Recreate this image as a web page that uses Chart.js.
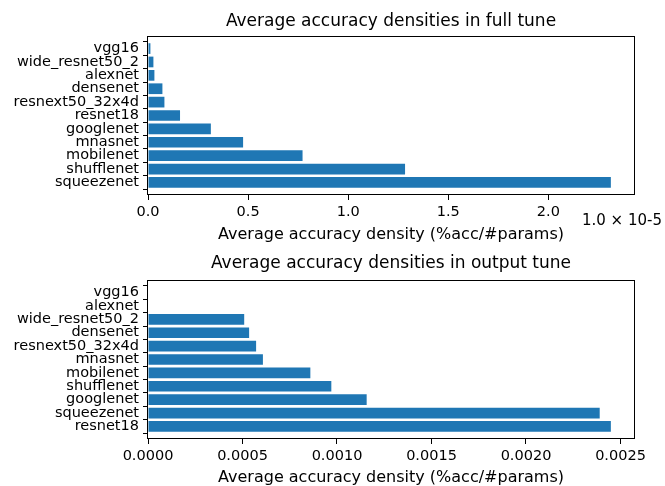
<!DOCTYPE html>
<html>
<head>
<meta charset="utf-8">
<script src="https://cdn.jsdelivr.net/npm/chart.js@4.4.0/dist/chart.umd.min.js"></script>
<style>
  body { margin: 0; background: #fff; }
  .box { width: 665px; height: 243px; }
</style>
</head>
<body>
<div class="box"><canvas id="fullChart" width="665" height="243"></canvas></div>
<div class="box"><canvas id="outputChart" width="665" height="243"></canvas></div>
<script>
// full tune, values in units of 1e-5
const fullNames = ['vgg16', 'wide_resnet50_2', 'alexnet', 'densenet', 'resnext50_32x4d', 'resnet18',
  'googlenet', 'mnasnet', 'mobilenet', 'shufflenet', 'squeezenet'];
const fullValues = [0.012, 0.027, 0.032, 0.072, 0.082, 0.160, 0.314, 0.475, 0.772, 1.284, 2.312];
const fullTicks = [0, 0.5, 1.0, 1.5, 2.0];

// output tune
const outputNames = ['vgg16', 'alexnet', 'wide_resnet50_2', 'densenet', 'resnext50_32x4d', 'mnasnet',
  'mobilenet', 'shufflenet', 'googlenet', 'squeezenet', 'resnet18'];
const outputValues = [0, 0, 0.000509, 0.000535, 0.000572, 0.000608, 0.000859, 0.000970, 0.001157, 0.002390, 0.002449];
const outputTicks = [0, 0.0005, 0.0010, 0.0015, 0.0020, 0.0025];

const FONT = 'DejaVu Sans';
const BLUE = '#1f77b4';

// black box round the plot area, like matplotlib axes
const framePlugin = {
  id: 'frame',
  afterDraw(chart) {
    const a = chart.chartArea, ctx = chart.ctx;
    ctx.save();
    ctx.strokeStyle = '#000';
    ctx.lineWidth = 1;
    ctx.strokeRect(Math.round(a.left) - 0.5, Math.round(a.top) + 0.5,
      Math.round(a.right - a.left) + 1, Math.round(a.bottom - a.top) - 1);
    ctx.restore();
  }
};

// "1.0 × 10-5" offset text
const offsetPlugin = {
  id: 'offsetText',
  afterDraw(chart, args, opts) {
    if (!opts.text) return;
    const ctx = chart.ctx;
    ctx.save();
    ctx.font = '15px ' + FONT;
    ctx.fillStyle = '#000';
    ctx.textAlign = 'left';
    ctx.textBaseline = 'middle';
    ctx.fillText(opts.text, opts.x, opts.y);
    ctx.restore();
  }
};

function makeChart(id, names, values, ticks, digits, title, titlePad, xHeight, offsetText) {
  const n = names.length;
  new Chart(document.getElementById(id), {
    type: 'bar',
    data: {
      datasets: [{
        data: names.map((name, i) => ({ x: values[i], y: i })),
        backgroundColor: BLUE,
        barPercentage: 0.8,
        categoryPercentage: 1.0
      }]
    },
    plugins: [framePlugin, offsetPlugin],
    options: {
      indexAxis: 'y',
      responsive: false,
      animation: false,
      layout: { padding: { left: 0, right: 31, top: 0, bottom: 0 } },
      plugins: {
        legend: { display: false },
        tooltip: { enabled: false },
        title: {
          display: true,
          text: title,
          fullSize: false,
          color: '#000',
          font: { family: FONT, size: 17, weight: 'normal' },
          padding: titlePad
        },
        offsetText: offsetText
      },
      scales: {
        x: {
          type: 'linear',
          min: 0,
          max: Math.max(...values) * 1.05,
          afterBuildTicks: s => { s.ticks = ticks.map(v => ({ value: v })); },
          afterFit: s => { s.height = xHeight; },
          border: { display: false },
          grid: { drawOnChartArea: false, drawTicks: true, tickLength: 5, color: '#000' },
          ticks: {
            color: '#000', padding: 4,
            font: { family: FONT, size: 14.5 },
            maxRotation: 0,
            callback: v => Number(v).toFixed(digits)
          },
          title: {
            display: true,
            text: 'Average accuracy density (%acc/#params)',
            color: '#000',
            font: { family: FONT, size: 16 },
            padding: { top: 0, bottom: -1 }
          }
        },
        y: {
          type: 'linear',
          reverse: true,
          offset: false,
          min: -0.94,
          max: n - 1 + 0.94,
          afterBuildTicks: s => { s.ticks = names.map((_, i) => ({ value: i })); },
          afterFit: s => { s.width = 148; },
          border: { display: false },
          grid: { drawOnChartArea: false, drawTicks: true, tickLength: 5, color: '#000' },
          ticks: {
            color: '#000', padding: 4,
            font: { family: FONT, size: 14.5 },
            autoSkip: false,
            callback: v => names[v]
          }
        }
      }
    }
  });
}

makeChart('fullChart', fullNames, fullValues, fullTicks, 1,
  'Average accuracy densities in full tune', { top: 11.8, bottom: 3.8 }, 48,
  { text: '1.0 \u00d7 10-5', x: 582, y: 221 });
makeChart('outputChart', outputNames, outputValues, outputTicks, 4,
  'Average accuracy densities in output tune', { top: 10.1, bottom: 6.5 }, 47,
  { text: '' });
</script>
</body>
</html>
